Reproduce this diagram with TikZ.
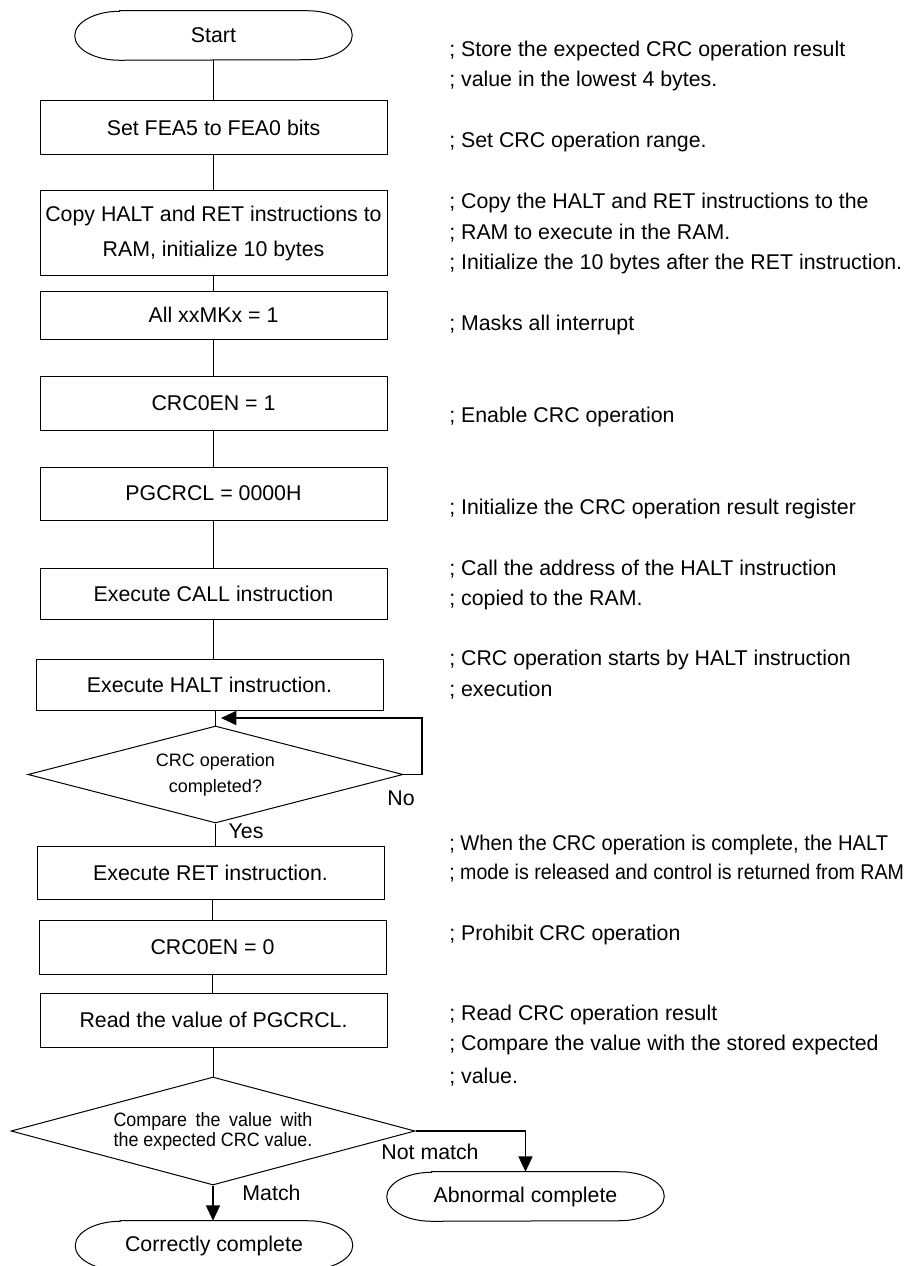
\documentclass[tikz,border=0pt]{standalone}
\usepackage{fontspec}
\setmainfont{Liberation Sans}
\usetikzlibrary{shapes.geometric,arrows.meta}
\newcommand\termline[1]{%
  \draw[line width=0.75pt] ([xshift=33.75pt]#1.north west) -- ([xshift=-33.75pt]#1.north east)
    arc[start angle=90,end angle=-90,x radius=33.75pt,y radius=18.375pt]
    -- ([xshift=33.75pt]#1.south west)
    arc[start angle=270,end angle=90,x radius=33.75pt,y radius=18.375pt] -- cycle;}
\begin{document}
\begin{tikzpicture}[x=0.75pt,y=-0.75pt,
  txt/.style={font=\fontsize{16pt}{19pt}\selectfont, inner sep=0pt},
  proc/.style={txt, draw, line width=0.75pt, minimum width=260.25pt, align=center},
  term/.style={txt, minimum width=207.75pt, minimum height=36.75pt},
  dec/.style={diamond, draw, line width=0.75pt, inner sep=0pt, align=center},
  cmt/.style={txt, anchor=base west},
  lbl/.style={txt},
  conn/.style={line width=0.75pt},
  arr/.style={line width=1.1pt, -{Triangle[length=11.5pt,width=10.5pt]}},
]
\useasboundingbox (0,0) rectangle (907,1266);
\fill[white] (0,0) rectangle (907,1266);

% flow nodes
\node[term] (start) at (213.5,35.5) {\raisebox{-2pt}{Start}};
\node[proc, minimum height=40.5pt] (b1) at (213.5,128) {Set FEA5 to FEA0 bits};
\node[proc, minimum height=63pt, font=\fontsize{16pt}{26.25pt}\selectfont] (b2) at (213.5,233) {Copy HALT and RET instructions to\\RAM, initialize 10 bytes};
\node[proc, minimum height=36pt] (b3) at (213.5,315) {All xxMKx = 1};
\node[proc, minimum height=40.5pt] (b4) at (213.5,403) {CRC0EN = 1};
\node[proc, minimum height=39.75pt] (b5) at (213.5,493.5) {PGCRCL = 0000H};
\node[proc, minimum height=38.25pt] (b6) at (213.5,593.5) {Execute CALL instruction};
\node[proc, minimum height=38.25pt] (b7) at (209.5,684.5) {Execute HALT instruction.};
\node[dec, minimum width=281.25pt, minimum height=72.75pt, aspect=3.87, font=\fontsize{13.5pt}{19.5pt}\selectfont] (d1) at (215.5,774.5) {CRC operation\\completed?};
\node[proc, minimum height=39.75pt] (b8) at (210.5,872.5) {Execute RET instruction.};
\node[proc, minimum height=40.5pt] (b9) at (212.5,947) {CRC0EN = 0};
\node[proc, minimum height=40.5pt] (b10) at (213.5,1020) {Read the value of PGCRCL.};
\node[dec, minimum width=303pt, minimum height=81pt, aspect=3.74, font=\fontsize{14.5pt}{15pt}\selectfont] (d2) at (213,1131)
  {\scalebox{0.925}[1]{\makebox[161.25pt][s]{Compare the value with}}\\\scalebox{0.925}[1]{the expected CRC value.}};
\node[term] (correct) at (214,1245.5) {Correctly complete};
\node[term] (abn) at (525.5,1196.5) {Abnormal complete};
\termline{start}
\termline{correct}
\termline{abn}

% connectors
\draw[conn] (start) -- (b1);
\draw[conn] (b1) -- (b2);
\draw[conn] (b2) -- (b3);
\draw[conn] (b3) -- (b4);
\draw[conn] (b4) -- (b5);
\draw[conn] (b5) -- (b6);
\draw[conn] (b6.south) -- (b6.south |- b7.north);
\draw[conn] (d1.north |- b7.south) -- (d1.north);
\draw[conn] (d1.south) -- (d1.south |- b8.north);
\draw[conn] (b9.north |- b8.south) -- (b9.north);
\draw[conn] (b9.south) -- (b9.south |- b10.north);
\draw[conn] (d2.north |- b10.south) -- (d2.north);
\coordinate (loopR) at (422,718);
\coordinate (loopIn) at (221,718);
\draw[arr, line width=1.4pt] (d1.east) -| (loopR) -- (loopIn);
\draw[arr] (d2.south) -- (d2.south |- correct.north);
\draw[arr] (d2.east) -| (abn.north);

% branch labels
\node[lbl] (no) at (401,798) {No};
\node[lbl] (yes) at (246,831) {Yes};
\node[lbl] (match) at (271.5,1193) {Match};
\node[lbl] (nomatch) at (430,1152) {Not match};

% comments
\node[cmt] (c1a) at (449,56.5) {; Store the expected CRC operation result};
\node[cmt] (c1b) at (449,86.5) {; value in the lowest 4 bytes.};
\node[cmt] (c2) at (449,147.5) {; Set CRC operation range.};
\node[cmt] (c3a) at (449,208.5) {; Copy the HALT and RET instructions to the};
\node[cmt] (c3b) at (449,239.5) {; RAM to execute in the RAM.};
\node[cmt] (c3c) at (449,269.5) {; Initialize the 10 bytes after the RET instruction.};
\node[cmt] (c4) at (449,330.5) {; Masks all interrupt};
\node[cmt] (c5) at (449,422.5) {; Enable CRC operation};
\node[cmt] (c6) at (449,514.5) {; Initialize the CRC operation result register};
\node[cmt] (c7a) at (449,575.5) {; Call the address of the HALT instruction};
\node[cmt] (c7b) at (449,605.5) {; copied to the RAM.};
\node[cmt] (c8a) at (449,665.5) {; CRC operation starts by HALT instruction};
\node[cmt] (c8b) at (449,696.5) {; execution};
\node[cmt] (c9a) at (449,850.5) {\scalebox{0.945}[1]{; When the CRC operation is complete, the HALT}};
\node[cmt] (c9b) at (449,879.5) {\scalebox{0.92}[1]{; mode is released and control is returned from RAM}};
\node[cmt] (c10) at (449,940.5) {; Prohibit CRC operation};
\node[cmt] (c11a) at (449,1020.5) {; Read CRC operation result};
\node[cmt] (c11b) at (449,1050.5) {; Compare the value with the stored expected};
\node[cmt] (c11c) at (449,1083.5) {; value.};
\end{tikzpicture}
\end{document}
